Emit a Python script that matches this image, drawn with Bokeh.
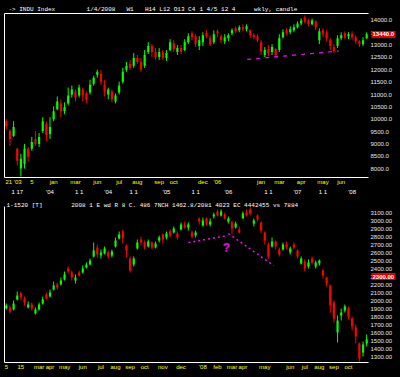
from bokeh.plotting import figure
from bokeh.models import (Range1d, LinearAxis, FixedTicker, Label, PrintfTickFormatter,
                          ColumnDataSource)
from bokeh.layouts import column
from bokeh.embed import file_html
from bokeh.resources import INLINE

# ---------------- data: upper panel (weekly index) ----------------
top_open = [9920, 9520, 9320, 8800, 8000, 8200, 8800, 8800, 9200, 9000,
            9520, 9800, 9400, 10000, 10400, 10640, 10320, 10640, 11000, 11120,
            10960, 11200, 11040, 11080, 11440, 11800, 11840, 11400, 11000, 11120,
            10720, 11080, 11520, 12000, 12240, 12160, 12480, 12320, 12160, 12720,
            12960, 12720, 12520, 12720, 12480, 12800, 13080, 12720, 12880, 12800,
            13120, 13480, 13360, 12960, 13120, 13480, 13280, 13120, 13560, 13360,
            13160, 13280, 13480, 13680, 13600, 13720, 13640, 13600, 13400, 13360,
            13120, 12600, 12840, 12720, 12840, 12800, 13320, 13600, 13520, 13600,
            13720, 13880, 14120, 14000, 13840, 13960, 13200, 13600, 13520, 13200,
            12920, 12960, 13280, 13480, 13360, 13440, 13320, 13160, 13040, 13280]
top_close = [9720, 9200, 9680, 8320, 8400, 8800, 8480, 9080, 9000, 9280,
             9920, 9360, 9680, 10320, 10720, 10320, 10480, 10960, 11200, 10880,
             11280, 10960, 10800, 11400, 11680, 11920, 11520, 11120, 11200, 10800,
             10960, 11360, 11920, 12160, 12080, 12480, 12320, 12000, 12600, 12960,
             12720, 12520, 12720, 12480, 12680, 13120, 12840, 12880, 12720, 13120,
             13360, 13320, 13040, 13200, 13400, 13360, 13040, 13440, 13480, 13200,
             13320, 13400, 13600, 13560, 13720, 13640, 13760, 13400, 13320, 13200,
             12760, 12800, 12680, 12920, 12600, 13280, 13520, 13480, 13640, 13720,
             13880, 14000, 13960, 13840, 14000, 13720, 13560, 13440, 13280, 12960,
             12760, 13280, 13400, 13320, 13440, 13320, 13160, 13040, 13200, 13440]
top_high = [10000, 9600, 9920, 8840, 8600, 9000, 8880, 9280, 9520, 9440,
            10080, 9920, 10080, 10520, 10920, 10800, 10680, 11280, 11360, 11200,
            11400, 11280, 11120, 11600, 11760, 12000, 12000, 11600, 11280, 11200,
            11040, 11520, 12080, 12320, 12400, 12680, 12600, 12480, 12800, 13120,
            13040, 12880, 12880, 12800, 12800, 13240, 13200, 13000, 13000, 13240,
            13480, 13560, 13440, 13360, 13520, 13600, 13400, 13600, 13640, 13440,
            13440, 13480, 13680, 13760, 13800, 13840, 13840, 13640, 13480, 13440,
            13200, 12920, 13000, 13040, 12880, 13440, 13640, 13680, 13760, 13840,
            13960, 14080, 14200, 14080, 14080, 14000, 13680, 13680, 13600, 13280,
            13040, 13400, 13520, 13560, 13520, 13560, 13400, 13200, 13320, 13520]
top_low = [9600, 8920, 9280, 8120, 7680, 8000, 8280, 8720, 8920, 8880,
           9440, 9120, 9200, 9920, 10360, 10080, 10200, 10560, 10880, 10720,
           10880, 10720, 10640, 11000, 11360, 11680, 11400, 10920, 10800, 10680,
           10640, 11000, 11440, 11920, 12000, 12080, 12240, 11920, 12080, 12640,
           12520, 12400, 12400, 12400, 12360, 12760, 12720, 12600, 12640, 12760,
           13040, 13200, 12920, 12800, 12960, 13280, 12960, 13040, 13320, 13080,
           13040, 13160, 13400, 13480, 13520, 13560, 13560, 13280, 13240, 13120,
           12600, 12520, 12560, 12600, 12480, 12720, 13280, 13400, 13440, 13520,
           13680, 13800, 13880, 13760, 13800, 13600, 13040, 13320, 13160, 12800,
           12680, 12880, 13200, 13240, 13240, 13200, 13040, 12920, 12960, 13240]
top_yticks = [8000, 8500, 9000, 9500, 10000, 10500, 11000, 11500, 12000, 12500,
              13000, 13500, 14000]
top_xticks_1 = [2, 7, 13, 19, 25, 31, 36, 42, 46, 54, 58, 70, 75, 81, 87, 92]
top_xlabels_1 = ["21 '03", "5", "jan", "mar", "jun", "jul", "aug", "sep", "oct",
                 "dec", "'06", "jan", "mar", "apr", "may", "jun"]
top_xticks_2 = [3, 12, 20, 28, 35, 44, 52, 61, 72, 80, 87, 95]
top_xlabels_2 = ["1 17", "'04", "1 1", "'04", "1 1", "'05", "1 1", "'06", "1 1",
                 "'07", "1 1", "'08"]
top_neck_x = [66.2, 91.3]
top_neck_y = [12420, 12760]
top_last = 13440
top_title = ["-> INDU Index", "1/4/2008", "W1", "H14 L12 O13 C4", "1 4/5 12 4",
             "wkly, candle"]
top_title_at = [7, 26, 34, 45, 58, 74]

# ---------------- data: lower panel (daily index) ----------------
bot_open = [1900, 1912.5, 1887.5, 2012.5, 2087.5, 2025, 1912.5, 1950, 1837.5, 1887.5,
            1962.5, 2075, 2050, 2137.5, 2200, 2200, 2262.5, 2400, 2350, 2250,
            2350, 2350, 2412.5, 2450, 2550, 2662.5, 2562.5, 2587.5, 2600, 2562.5,
            2675, 2775, 2862.5, 2687.5, 2525, 2450, 2650, 2762.5, 2725, 2675,
            2725, 2662.5, 2750, 2825, 2787.5, 2862.5, 2850, 2837.5, 2887.5, 2950,
            2912.5, 2850, 2812.5, 3025, 2937.5, 3025, 2950, 3050, 3112.5, 3062.5,
            3075, 2987.5, 2975, 2912.5, 2887.5, 3025, 3100, 3137.5, 2962.5, 3062.5,
            2975, 2850, 2700, 2675, 2737.5, 2637.5, 2637.5, 2700, 2600, 2700,
            2625, 2462.5, 2487.5, 2425, 2525, 2425, 2462.5, 2375, 2287.5, 2187.5,
            1975, 1600, 1812.5, 1875, 1900, 1775, 1662.5, 1462.5, 1350, 1462.5]
bot_close = [1937.5, 1862.5, 1962.5, 2062.5, 2037.5, 1975, 1950, 1900, 1887.5, 1950,
             2012.5, 2025, 2100, 2187.5, 2162.5, 2250, 2325, 2362.5, 2287.5, 2287.5,
             2312.5, 2400, 2450, 2500, 2625, 2575, 2600, 2650, 2550, 2612.5,
             2750, 2825, 2775, 2625, 2375, 2525, 2725, 2725, 2662.5, 2737.5,
             2662.5, 2712.5, 2787.5, 2762.5, 2837.5, 2812.5, 2900, 2787.5, 2950, 2912.5,
             2950, 2800, 2850, 2987.5, 3000, 2962.5, 2987.5, 3075, 3062.5, 3112.5,
             3025, 3025, 2900, 2962.5, 2850, 3087.5, 3062.5, 3087.5, 3000, 3012.5,
             2875, 2750, 2550, 2737.5, 2675, 2575, 2700, 2662.5, 2650, 2662.5,
             2550, 2525, 2400, 2475, 2475, 2475, 2500, 2312.5, 2212.5, 1937.5,
             1775, 1750, 1850, 1925, 1800, 1675, 1550, 1275, 1450, 1512.5]
bot_high = [1962.5, 1937.5, 2000, 2112.5, 2112.5, 2050, 1987.5, 1975, 1912.5, 1975,
            2050, 2100, 2137.5, 2237.5, 2225, 2287.5, 2362.5, 2425, 2375, 2325,
            2375, 2437.5, 2475, 2525, 2725, 2700, 2637.5, 2675, 2625, 2637.5,
            2787.5, 2862.5, 2887.5, 2700, 2550, 2550, 2762.5, 2800, 2750, 2762.5,
            2737.5, 2737.5, 2812.5, 2837.5, 2862.5, 2887.5, 2925, 2862.5, 2975, 2987.5,
            2975, 2875, 2875, 3037.5, 3037.5, 3037.5, 3025, 3100, 3137.5, 3137.5,
            3100, 3050, 3000, 2987.5, 2925, 3112.5, 3137.5, 3162.5, 3025, 3075,
            2987.5, 2862.5, 2725, 2787.5, 2750, 2662.5, 2725, 2737.5, 2675, 2725,
            2637.5, 2550, 2512.5, 2512.5, 2550, 2500, 2512.5, 2387.5, 2300, 2200,
            2000, 1812.5, 1900, 1950, 1925, 1800, 1700, 1475, 1487.5, 1575]
bot_low = [1887.5, 1837.5, 1875, 2000, 2000, 1937.5, 1900, 1875, 1825, 1875,
           1950, 2012.5, 2037.5, 2125, 2137.5, 2187.5, 2250, 2337.5, 2250, 2212.5,
           2300, 2337.5, 2400, 2437.5, 2537.5, 2537.5, 2525, 2575, 2525, 2537.5,
           2662.5, 2762.5, 2712.5, 2537.5, 2350, 2425, 2637.5, 2687.5, 2637.5, 2662.5,
           2637.5, 2650, 2725, 2712.5, 2762.5, 2787.5, 2837.5, 2762.5, 2875, 2900,
           2875, 2775, 2787.5, 2950, 2925, 2937.5, 2925, 3025, 3050, 3050,
           3012.5, 2962.5, 2837.5, 2900, 2837.5, 3025, 3050, 3062.5, 2925, 2987.5,
           2837.5, 2700, 2525, 2662.5, 2637.5, 2550, 2625, 2637.5, 2575, 2637.5,
           2525, 2450, 2362.5, 2400, 2450, 2400, 2437.5, 2275, 2175, 1850,
           1725, 1475, 1750, 1850, 1762.5, 1625, 1462.5, 1237.5, 1300, 1425]
bot_yticks = [1300, 1400, 1500, 1600, 1700, 1800, 1900, 2000, 2100, 2200, 2300,
              2400, 2500, 2600, 2700, 2800, 2900, 3000, 3100]
bot_xticks = [0, 4, 9, 12, 16, 21, 26, 30, 34, 38, 43, 48, 54, 58, 62, 65, 71, 78,
              82, 86, 90, 94]
bot_xlabels = ["5", "15", "mar", "apr", "may", "jun", "jul", "aug", "sep", "oct",
               "nov", "dec", "'08", "feb", "mar", "apr", "may", "jun", "jul", "aug",
               "sep", "oct"]
bot_neck_x = [50.0, 61.0]
bot_neck_y = [2725, 2812.5]
bot_drop_x = [61.0, 73.4]
bot_drop_y = [2837.5, 2437.5]
bot_mark = 2300
bot_title = ["1-1520 [T]",
             "2008 1 E wd R 8 C. 486 7NCH 1462.8/2081 4023 EC 4442455 vs 7884"]
bot_title_at = [5, 49]

GREEN = "#00ff00"
RED = "#ff0000"
MAG = "#ff00ff"
FONT = "Liberation Sans"
MONO = "Liberation Mono"


def base_fig(h, yr, top_b, bot_b, right_b):
    p = figure(width=400, height=h, x_range=Range1d(-0.5, 99.5), y_range=yr,
               output_backend="svg", toolbar_location=None,
               x_axis_location=None, y_axis_location=None,
               background_fill_color="black", border_fill_color="black",
               outline_line_color=None,
               min_border_left=4, min_border_right=right_b,
               min_border_top=top_b, min_border_bottom=bot_b)
    p.grid.visible = False
    left = LinearAxis(ticker=FixedTicker(ticks=[]), axis_line_color="white",
                      major_tick_line_color=None, minor_tick_line_color=None,
                      major_label_text_font_size="0px", major_label_standoff=0,
                      major_tick_out=0, major_tick_in=0)
    p.add_layout(left, "left")
    return p


def candles(p, o, h, l, c):
    x = list(range(len(c)))
    col = [GREEN if cc >= oo else RED for oo, cc in zip(o, c)]
    src = ColumnDataSource(dict(x=x, h=h, l=l,
                                top=[max(a, b) for a, b in zip(o, c)],
                                bot=[min(a, b) for a, b in zip(o, c)], col=col))
    p.segment(x0="x", y0="h", x1="x", y1="l", line_color="col", line_width=1, source=src)
    p.vbar(x="x", width=0.6, top="top", bottom="bot", fill_color="col",
           line_color=None, source=src)


def xaxis(p, ticks, labels, color, line, place="below", font=FONT, standoff=1):
    ax = LinearAxis(ticker=FixedTicker(ticks=ticks),
                    major_label_overrides={t: s for t, s in zip(ticks, labels)},
                    axis_line_color=("white" if line else None), axis_line_width=1,
                    major_tick_line_color=None, minor_tick_line_color=None,
                    major_tick_out=0, major_tick_in=0, major_label_standoff=standoff,
                    major_label_text_color=color, major_label_text_font_size="6px",
                    major_label_text_font=font)
    p.add_layout(ax, place)


def yaxis(p, ticks, fmt):
    ax = LinearAxis(ticker=FixedTicker(ticks=ticks), formatter=PrintfTickFormatter(format=fmt),
                    axis_line_color=None, major_tick_line_color=None,
                    minor_tick_line_color=None, major_tick_out=0, major_tick_in=0,
                    major_label_standoff=2, major_label_text_color="#e8e8e8",
                    major_label_text_font_size="6px", major_label_text_font=FONT)
    p.add_layout(ax, "right")


def highlight_axis(p, val, fmt, reach):
    # last-price marker: a thick red tick reaching back over the price scale
    ax = LinearAxis(ticker=FixedTicker(ticks=[val]), formatter=PrintfTickFormatter(format=fmt),
                    axis_line_color=None, minor_tick_line_color=None,
                    major_tick_line_color="#e00000", major_tick_line_width=7,
                    major_tick_in=reach, major_tick_out=0,
                    major_label_standoff=-reach + 1, major_label_text_color="white",
                    major_label_text_font_size="6px", major_label_text_font=FONT,
                    major_label_text_font_style="bold")
    p.add_layout(ax, "right")


# ---------------- upper figure ----------------
p1 = base_fig(197, Range1d(7640, 14280), 13, 18, 30)
# header line of the chart: the frame's top rule carries the title texts
xaxis(p1, top_title_at, top_title, "white", True, place="above", font=MONO, standoff=1)
candles(p1, top_open, top_high, top_low, top_close)
p1.line(top_neck_x, top_neck_y, line_color=MAG, line_width=1.2, line_dash="4 5")
xaxis(p1, top_xticks_1, top_xlabels_1, "#ffff00", True)
xaxis(p1, top_xticks_2, top_xlabels_2, "white", False)
yaxis(p1, top_yticks, "%.1f")
highlight_axis(p1, top_last, "%.1f", 24)

# ---------------- lower figure ----------------
p2 = base_fig(180, Range1d(1225, 3175), 9, 15, 32)
xaxis(p2, bot_title_at, bot_title, "white", False, place="above", font=MONO, standoff=-2)
candles(p2, bot_open, bot_high, bot_low, bot_close)
p2.line(bot_neck_x, bot_neck_y, line_color=MAG, line_width=1.5, line_dash="2 3")
p2.line(bot_drop_x, bot_drop_y, line_color=MAG, line_width=1.5, line_dash="2 3")
p2.add_layout(Label(x=60.5, y=2662.5, text="?", text_color=MAG, text_font_size="12px",
                    text_font_style="bold", text_font=FONT, text_align="center",
                    text_baseline="middle"))
xaxis(p2, bot_xticks, bot_xlabels, "#ffff00", True)
yaxis(p2, bot_yticks, "%.2f")
highlight_axis(p2, bot_mark, "%.2f", 24)

layout = column(p1, p2, spacing=0)
html = file_html(layout, INLINE, title="chart")
html = html.replace("<head>", "<head><style>html,body{margin:0;padding:0;background:#000;}</style>", 1)
open("out.html", "w").write(html)
